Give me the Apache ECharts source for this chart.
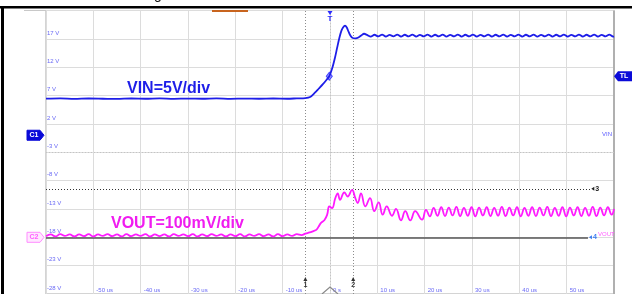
<!DOCTYPE html>
<html>
<head>
<meta charset="utf-8">
<script src="https://cdn.jsdelivr.net/npm/echarts@6/dist/echarts.min.js"></script>
<style>
  html, body { margin: 0; padding: 0; background: #fff; }
  #scope { width: 632px; height: 294px; }
</style>
</head>
<body>
<div id="scope"></div>
<script>
// scope capture: time in us, VIN in volts (C1 scale), VOUT in mV around C2 ground
const vinTimeUs = [
  -60, -57, -54, -51, -48, -45, -42, -39, -36, -33,
  -30, -27, -24, -21, -18, -15, -12, -9, -7, -5.2,
  -4.2, -3.2, -2.4, -1.5, -0.8, -0.15, 0.5, 1.06, 1.5, 1.96,
  2.4, 2.75, 3.17, 3.55, 3.9, 4.3, 4.8, 5.4, 6.0, 6.6,
  7.2, 7.9, 8.6, 9.4, 10.2, 11.0, 11.8, 12.6, 13.4, 14.2,
  15.0, 15.8, 16.6, 17.4, 18.2, 19.0, 19.8, 20.6, 21.4, 22.2,
  23.0, 23.8, 24.6, 25.4, 26.2, 27.0, 27.8, 28.6, 29.4, 30.2,
  31.0, 31.8, 32.6, 33.4, 34.2, 35.0, 35.8, 36.6, 37.4, 38.2,
  39.0, 39.8, 40.6, 41.4, 42.2, 43.0, 43.8, 44.6, 45.4, 46.2,
  47.0, 47.8, 48.6, 49.4, 50.2, 51.0, 51.8, 52.6, 53.4, 54.2,
  55.0, 55.8, 56.6, 57.4, 58.2, 59.0, 59.8, 60
];
const vinVolts = [
  6.45, 6.5, 6.42, 6.48, 6.44, 6.4, 6.48, 6.44, 6.5, 6.42,
  6.46, 6.44, 6.5, 6.42, 6.46, 6.44, 6.48, 6.44, 6.5, 6.55,
  6.75, 7.5, 8.2, 9.0, 9.7, 10.4, 11.9, 13.7, 15.4, 17.1,
  18.4, 19.0, 19.35, 19.0, 18.3, 17.6, 17.15, 17.1, 17.25, 17.6,
  17.9, 17.65, 17.4, 17.72, 17.42, 17.75, 17.4, 17.7, 17.45, 17.75,
  17.4, 17.72, 17.42, 17.75, 17.4, 17.7, 17.43, 17.75, 17.4, 17.72,
  17.42, 17.76, 17.4, 17.7, 17.44, 17.75, 17.4, 17.72, 17.42, 17.75,
  17.4, 17.7, 17.43, 17.76, 17.4, 17.72, 17.42, 17.75, 17.4, 17.7,
  17.44, 17.75, 17.4, 17.72, 17.42, 17.76, 17.4, 17.7, 17.43, 17.75,
  17.4, 17.72, 17.42, 17.75, 17.4, 17.7, 17.44, 17.76, 17.4, 17.72,
  17.42, 17.75, 17.4, 17.7, 17.43, 17.75, 17.4, 17.45
];
const voutTimeUs = [
  -60, -59, -58, -57, -56, -55, -54, -53, -52, -51,
  -50, -49, -48, -47, -46, -45, -44, -43, -42, -41,
  -40, -39, -38, -37, -36, -35, -34, -33, -32, -31,
  -30, -29, -28, -27, -26, -25, -24, -23, -22, -21,
  -20, -19, -18, -17, -16, -15, -14, -13, -12, -11,
  -10, -9, -8, -7, -6, -5.2, -4.3, -3.5, -2.9, -2.4,
  -1.9, -1.2, -0.6, -0.15, 0.42, 1.12, 1.63, 2.11, 3.02, 3.74,
  4.65, 5.35, 5.85, 6.55, 7.46, 8.45, 9.36, 10.29, 11.13, 11.98,
  13.1, 13.94, 15.0, 15.9, 16.97, 18.0, 19.44, 20.28, 21.1, 21.9,
  22.7, 23.5, 24.3, 25.1, 25.9, 26.7, 27.5, 28.3, 29.1, 29.9,
  30.7, 31.5, 32.3, 33.1, 33.9, 34.7, 35.5, 36.3, 37.1, 37.9,
  38.7, 39.5, 40.3, 41.1, 41.9, 42.7, 43.5, 44.3, 45.1, 45.9,
  46.7, 47.5, 48.3, 49.1, 49.9, 50.7, 51.5, 52.3, 53.1, 53.9,
  54.7, 55.5, 56.3, 57.1, 57.9, 58.7, 59.5, 60
];
const voutMv = [
  4, 10, 3, 11, 5, 10, 3, 10, 4, 11,
  3, 10, 5, 11, 4, 10, 3, 11, 4, 10,
  5, 11, 3, 10, 4, 10, 3, 11, 5, 10,
  4, 11, 3, 10, 4, 11, 5, 10, 3, 10,
  4, 11, 3, 10, 5, 11, 4, 10, 3, 11,
  4, 10, 5, 11, 8, 13, 17, 22, 26, 38,
  51, 60, 80, 109, 103, 138, 155, 132, 158, 144,
  167, 138, 121, 155, 109, 138, 92, 123, 80, 109,
  76, 100, 60, 92, 60, 92, 62, 97, 74, 104,
  76, 106, 75, 105, 77, 107, 75, 104, 76, 106,
  74, 105, 77, 106, 75, 104, 76, 107, 75, 105,
  77, 106, 74, 104, 76, 106, 75, 105, 77, 107,
  75, 104, 76, 106, 74, 105, 77, 106, 75, 104,
  76, 107, 75, 105, 77, 106, 80, 100
];
const xTickLabels = ['', '-50 us', '-40 us', '-30 us', '-20 us', '-10 us', '0 s', '10 us', '20 us', '30 us', '40 us', '50 us', ''];
const yTickLabels = ['-28 V', '-23 V', '-18 V', '-13 V', '-8 V', '-3 V', '2 V', '7 V', '12 V', '17 V', ''];
const cursorTimesUs = [-5.2, 4.9];
const cursorLevelsMv = [171, 0];
const triggerLevelV = 10.4;

const pairs = (xs, ys) => xs.map((x, i) => [x, ys[i]]);
const labelBlue = '#6a6af5';
const gridGray = '#dcdcdc';
const trigIdx = vinTimeUs.indexOf(-0.15);

const chart = echarts.init(document.getElementById('scope'));
chart.setOption({
  animation: false,
  backgroundColor: '#fff',
  grid: { left: 46, top: 10.5, width: 568, height: 286, show: true, borderColor: '#a8a8a8', borderWidth: 1 },
  xAxis: {
    type: 'value', min: -60, max: 60, interval: 10,
    axisLine: { show: false }, axisTick: { show: false },
    splitLine: { lineStyle: { color: gridGray, width: 1 } },
    axisLabel: {
      inside: true, margin: 1, align: 'left', padding: [0, 0, 0, 3],
      color: labelBlue, fontSize: 6, fontFamily: 'Liberation Sans',
      formatter: v => xTickLabels[Math.round((v + 60) / 10)]
    }
  },
  yAxis: [{
    type: 'value', min: -28, max: 22, interval: 5,
    axisLine: { show: false }, axisTick: { show: false },
    splitLine: { lineStyle: { color: gridGray, width: 1 } },
    axisLabel: {
      inside: true, margin: 1, verticalAlign: 'bottom', padding: [0, 0, 3, 0],
      color: labelBlue, fontSize: 6, fontFamily: 'Liberation Sans',
      formatter: v => yTickLabels[Math.round((v + 28) / 5)]
    }
  }, {
    type: 'value', min: -200, max: 800, show: false, splitLine: { show: false }
  }],
  series: [{
    name: 'VIN', type: 'line', yAxisIndex: 0, data: pairs(vinTimeUs, vinVolts),
    showSymbol: false, smooth: 0.3, z: 5,
    lineStyle: { color: '#1e1ee8', width: 1.8 }, itemStyle: { color: '#1e1ee8' },
    markPoint: {
      silent: true, symbol: 'diamond', symbolSize: [6, 8], label: { show: false },
      itemStyle: { color: '#9a9aff', borderColor: '#4646ff', borderWidth: 1 },
      data: [{ coord: [vinTimeUs[trigIdx], vinVolts[trigIdx]] }]
    },
    markLine: {
      silent: true, symbol: 'none', label: { show: false },
      data: [
        { xAxis: 0, lineStyle: { color: '#c4c4c4', type: [1, 2], width: 1 } },
        { yAxis: -3, lineStyle: { color: '#c4c4c4', type: [1, 2], width: 1 } },
        { xAxis: cursorTimesUs[0], lineStyle: { color: '#8c8c8c', type: [1, 2], width: 1 } },
        { xAxis: cursorTimesUs[1], lineStyle: { color: '#8c8c8c', type: [1, 2], width: 1 } }
      ]
    }
  }, {
    name: 'VOUT', type: 'line', yAxisIndex: 1, data: pairs(voutTimeUs, voutMv),
    showSymbol: false, smooth: 0.45, z: 5,
    lineStyle: { color: '#ff1aff', width: 1.8 }, itemStyle: { color: '#ff1aff' },
    markLine: {
      silent: true, symbol: 'none', label: { show: false },
      data: [
        [{ coord: [-60, cursorLevelsMv[0]], lineStyle: { color: '#333', type: [1, 2], width: 1 } }, { coord: [55, cursorLevelsMv[0]] }],
        [{ coord: [-60, cursorLevelsMv[1]], lineStyle: { color: '#555', type: 'solid', width: 1.5 } }, { coord: [54.5, cursorLevelsMv[1]] }]
      ]
    }
  }]
});

// scope overlay markers, placed from the axes
const px = v => chart.convertToPixel({ xAxisIndex: 0 }, v);
const pyV = v => chart.convertToPixel({ yAxisIndex: 0 }, v);
const pyMv = v => chart.convertToPixel({ yAxisIndex: 1 }, v);
const c1y = pyV(0), c2y = pyMv(0), tly = pyV(triggerLevelV), trigX = px(0);
const c3y = pyMv(cursorLevelsMv[0]), c4y = pyMv(cursorLevelsMv[1]);
const cx1 = px(cursorTimesUs[0]), cx2 = px(cursorTimesUs[1]);
const endX3 = px(55), endX4 = px(54.5);
const tag = (y, fill, stroke, txt, txtColor) => ([
  { type: 'polygon', shape: { points: [[27, y - 5], [40, y - 5], [44, y], [40, y + 5], [27, y + 5]] },
    style: { fill, stroke, lineWidth: 1 }, z: 10 },
  { type: 'text', x: 34, y, style: { text: txt, fill: txtColor, font: 'bold 7px Liberation Sans', align: 'center', verticalAlign: 'middle' }, z: 11 }
]);
const cursorNum = (x, n) => ([
  { type: 'polygon', shape: { points: [[x - 2, 281], [x + 2, 281], [x, 277]] }, style: { fill: '#333' }, z: 10 },
  { type: 'text', x, y: 285, style: { text: n, fill: '#333', font: 'bold 7px Liberation Sans', align: 'center', verticalAlign: 'middle' }, z: 10 }
]);

chart.setOption({
  graphic: [
    { type: 'rect', shape: { x: 0, y: 6, width: 632, height: 2.5 }, style: { fill: '#000' } },
    { type: 'rect', shape: { x: 1, y: 6, width: 3, height: 290 }, style: { fill: '#000' } },
    { type: 'text', x: 154, y: -12, style: { text: 'g', fill: '#111', font: '14px Liberation Sans' } },
    { type: 'line', shape: { x1: 24, y1: 10.5, x2: 46, y2: 10.5 }, style: { stroke: '#c8c8c8', lineWidth: 1 } },
    { type: 'line', shape: { x1: 614, y1: 10.5, x2: 614, y2: 294 }, style: { stroke: '#b0b0b0', lineWidth: 2 } },
    { type: 'rect', shape: { x: 212, y: 10, width: 36, height: 2 }, style: { fill: '#c8641e' }, z: 10 },
    { type: 'polygon', shape: { points: [[trigX - 2.5, 11], [trigX + 2.5, 11], [trigX, 15]] }, style: { fill: '#2a2aff' }, z: 10 },
    { type: 'text', x: trigX, y: 18.5, style: { text: 'T', fill: '#2a2aff', font: 'bold 8px Liberation Sans', align: 'center', verticalAlign: 'middle' }, z: 10 },
    ...tag(c1y, '#0a0ad8', '#0a0ad8', 'C1', '#fff'),
    ...tag(c2y, '#ffe8ff', '#ff8cff', 'C2', '#ff5cff'),
    { type: 'polygon', shape: { points: [[614, tly], [618, tly - 5], [632, tly - 5], [632, tly + 5], [618, tly + 5]] }, style: { fill: '#0a0ad8' }, z: 10 },
    { type: 'text', x: 624, y: tly, style: { text: 'TL', fill: '#fff', font: 'bold 7px Liberation Sans', align: 'center', verticalAlign: 'middle' }, z: 11 },
    { type: 'text', x: 612, y: c1y - 1, style: { text: 'VIN', fill: '#5a5aff', font: '6px Liberation Sans', align: 'right', verticalAlign: 'middle' }, z: 10 },
    { type: 'text', x: 127, y: 89, style: { text: 'VIN=5V/div', fill: '#1e1ee8', font: 'bold 16px Liberation Sans', verticalAlign: 'middle' }, z: 10 },
    { type: 'text', x: 111, y: 223.5, style: { text: 'VOUT=100mV/div', fill: '#f01cf0', font: 'bold 16px Liberation Sans', verticalAlign: 'middle' }, z: 10 },
    { type: 'polygon', shape: { points: [[endX3 + 1, c3y], [endX3 + 4, c3y - 2], [endX3 + 4, c3y + 2]] }, style: { fill: '#222' }, z: 10 },
    { type: 'text', x: endX3 + 5, y: c3y, style: { text: '3', fill: '#222', font: 'bold 7px Liberation Sans', verticalAlign: 'middle' }, z: 10 },
    { type: 'polygon', shape: { points: [[endX4 + 1, c4y], [endX4 + 4, c4y - 2], [endX4 + 4, c4y + 2]] }, style: { fill: '#3a7cf0' }, z: 10 },
    { type: 'text', x: endX4 + 5, y: c4y, style: { text: '4', fill: '#3a7cf0', font: 'bold 7px Liberation Sans', verticalAlign: 'middle' }, z: 10 },
    { type: 'text', x: endX4 + 10, y: c4y - 3, style: { text: 'VOUT', fill: '#ff5cff', font: '6px Liberation Sans', verticalAlign: 'middle' }, z: 10 },
    ...cursorNum(cx1, '1'),
    ...cursorNum(cx2, '2'),
    { type: 'polyline', shape: { points: [[trigX - 8, 294], [trigX, 287], [trigX + 8, 294]] }, style: { stroke: '#8a8a8a', lineWidth: 1.2, fill: null }, z: 10 }
  ]
});
</script>
</body>
</html>
